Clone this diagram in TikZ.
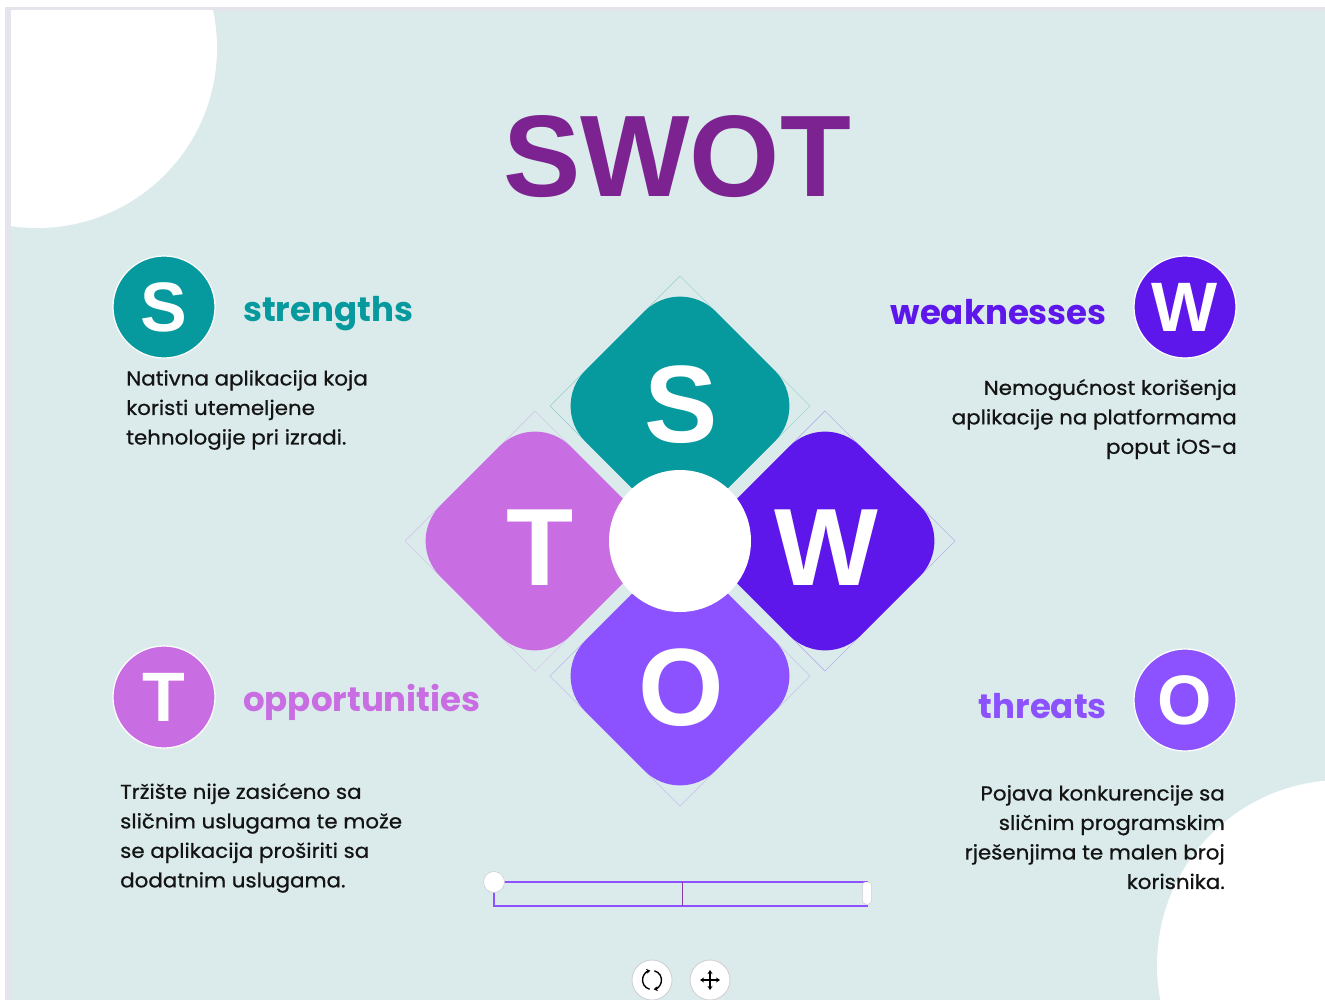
\documentclass[tikz,border=0pt]{standalone}
\usepackage{fontspec}
\setmainfont{Poppins}
\newfontfamily\letterfont{Liberation Sans}
\newfontfamily\bodyfont{Poppins}[FakeStretch=1.07, FakeBold=0.8]
\usetikzlibrary{arrows.meta}
\definecolor{bgc}{RGB}{219,235,235}
\definecolor{framec}{RGB}{228,229,236}
\definecolor{cS}{RGB}{6,153,158}
\definecolor{cT}{RGB}{201,109,227}
\definecolor{cW}{RGB}{94,23,235}
\definecolor{cO}{RGB}{140,82,255}
\definecolor{ctitle}{RGB}{125,35,145}
\definecolor{cline}{RGB}{140,82,255}
\definecolor{cmid}{RGB}{140,60,170}
\definecolor{cbtn}{RGB}{205,205,210}
\definecolor{ctext}{RGB}{20,20,20}
\tikzset{
  tile/.style={rectangle, rotate=45, minimum width=184pt, minimum height=184pt, inner sep=0pt, rounded corners=50pt, fill=#1},
  tilebox/.style={rectangle, rotate=45, minimum width=184pt, minimum height=184pt, inner sep=0pt, draw=#1, line width=0.5pt, draw opacity=0.35},
  bigletter/.style={text=white, font=\letterfont\bfseries\fontsize{110}{110}\selectfont, inner sep=0pt},
  badge/.style={circle, fill=#1, draw=white, line width=1.2pt, minimum size=102pt, inner sep=0pt, text=white, font=\letterfont\bfseries\fontsize{70}{70}\selectfont},
  heading/.style={font=\bfseries\fontsize{34}{34}\selectfont, text=#1, inner sep=0pt},
  body/.style={font=\bodyfont\fontsize{20}{29.5}\selectfont, text=ctext, inner sep=0pt},
  btn/.style={circle, fill=white, draw=cbtn, line width=0.8pt, minimum size=40pt, inner sep=0pt}
}
\begin{document}
\begin{tikzpicture}[x=1pt,y=-1pt]
\useasboundingbox (0,0) rectangle (1325,1000);
\fill[white] (0,0) rectangle (1325,1000);
\fill[framec] (5,7) rectangle (1325,1000);
\fill[bgc] (11,11) rectangle (1325,1000);
\begin{scope}
  \clip (11,11) rectangle (1325,1000);
  \fill[white] (37,48) circle (180);
  \fill[white] (1342,965) circle (185);
\end{scope}

% title
\node[font=\letterfont\bfseries\fontsize{116}{116}\selectfont, text=ctitle, inner sep=0pt, anchor=base] (title) at (677,197) {SWOT};

% tile outlines
\node[tilebox=cS] (bS) at (680,406) {};
\node[tilebox=cW] (bW) at (825,541) {};
\node[tilebox=cT] (bT) at (535,541) {};
\node[tilebox=cO] (bO) at (680,676) {};
% tiles
\node[tile=cS] (tS) at (680,406) {};
\node[tile=cW] (tW) at (825,541) {};
\node[tile=cT] (tT) at (535,541) {};
\node[tile=cO] (tO) at (680,676) {};
\node[circle, fill=white, minimum size=142pt, inner sep=0pt] (hub) at (680,541) {};
\node[bigletter, anchor=base] (lS) at (681,442) {S};
\node[bigletter, anchor=base] (lW) at (826,585) {W};
\node[bigletter, anchor=base] (lT) at (540,585) {T};
\node[bigletter, anchor=base] (lO) at (681,725) {O};

% badges
\node[badge=cS] (cirS) at (164,307) {S};
\node[badge=cW] (cirW) at (1185,307) {W};
\node[badge=cT] (cirT) at (164,697) {T};
\node[badge=cO] (cirO) at (1185,700) {O};

% headings
\node[heading=cS, anchor=base west] (hS) at (243,322) {strengths};
\node[heading=cW, anchor=base east] (hW) at (1107,324) {weaknesses};
\node[heading=cT, anchor=base west] (hT) at (243,711) {opportunities};
\node[heading=cO, anchor=base east] (hO) at (1107,718) {threats};

% body texts
\node[body, align=left, anchor=north west] (xS) at (126,370) {Nativna aplikacija koja\\koristi utemeljene\\tehnologije pri izradi.};
\node[body, align=right, anchor=north east] (xW) at (1237,379) {Nemogućnost korišenja\\aplikacije na platformama\\poput iOS-a};
\node[body, align=left, anchor=north west] (xT) at (120,783) {Tržište nije zasićeno sa\\sličnim uslugama te može\\se aplikacija proširiti sa\\dodatnim uslugama.};
\node[body, align=right, anchor=north east] (xO) at (1225,785) {Pojava konkurencije sa\\sličnim programskim\\rješenjima te malen broj\\korisnika.};

% slider
\coordinate (sl) at (494,882);
\coordinate (sr) at (868,882);
\coordinate (bl) at (494,906);
\coordinate (br) at (868,906);
\coordinate (mt) at (682,882);
\coordinate (mb) at (682,906);
\draw[cline, line width=2pt] (sr) -- (sl) -- (bl) -- (br);
\draw[cmid, line width=0.8pt] (mt) -- (mb);
\node[circle, fill=white, draw=cbtn, line width=0.6pt, minimum size=21pt, inner sep=0pt] (knob) at (sl) {};
\node[rectangle, rounded corners=3pt, fill=white, draw=cbtn, line width=0.5pt, minimum width=9pt, minimum height=22pt, inner sep=0pt] (handle) at (867,893) {};

% buttons
\node[btn] (rot) at (652,980) {};
\node[btn] (mov) at (710,980) {};
\begin{scope}[shift={(rot.center)}, yscale=-1]
  \draw[line width=1.4pt, -{Stealth[length=4pt,width=5pt]}] (255:9.5) arc[start angle=255, end angle=100, radius=9.5];
  \draw[line width=1.4pt, -{Stealth[length=4pt,width=5pt]}] (75:9.5) arc[start angle=75, end angle=-80, radius=9.5];
\end{scope}
\draw[line width=1.3pt, {Stealth[length=4pt,width=5pt]}-{Stealth[length=4pt,width=5pt]}] ([xshift=-10pt]mov.center) -- ([xshift=10pt]mov.center);
\draw[line width=1.3pt, {Stealth[length=4pt,width=5pt]}-{Stealth[length=4pt,width=5pt]}] ([yshift=-10pt]mov.center) -- ([yshift=10pt]mov.center);
\end{tikzpicture}
\end{document}
